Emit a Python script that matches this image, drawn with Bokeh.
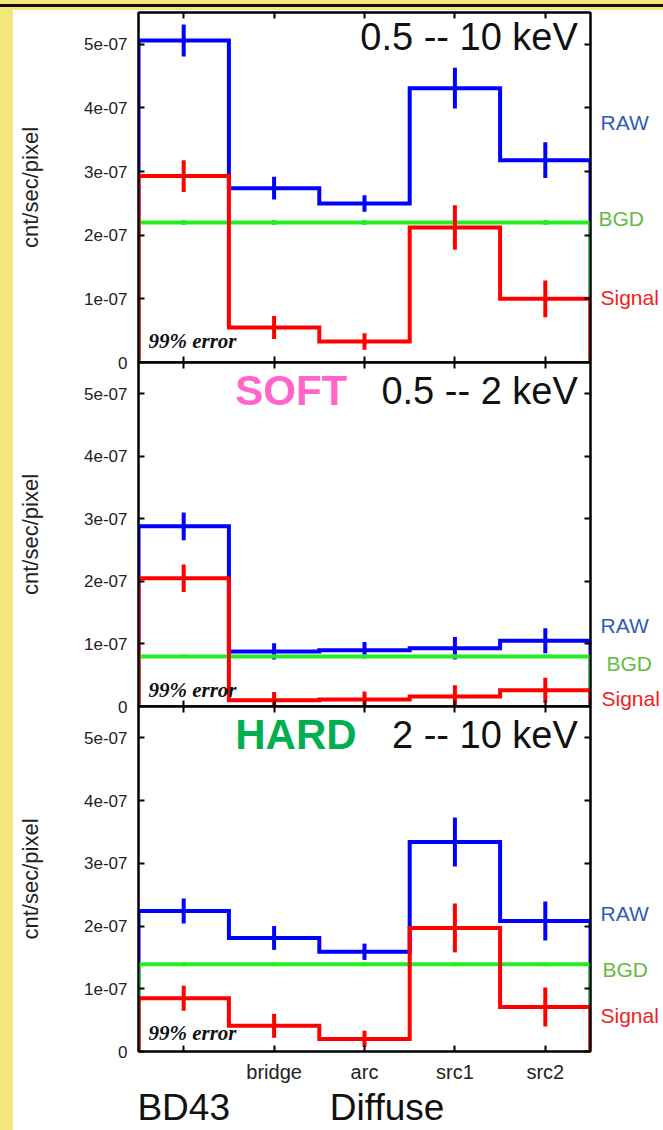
from bokeh.plotting import figure
from bokeh.models import Range1d, FixedTicker, LinearAxis, Label, Div, ColumnDataSource
from bokeh.core.properties import value
from bokeh.layouts import column, row
from bokeh.embed import file_html
from bokeh.resources import INLINE

# ---------------- data ----------------
regions = ["BD43", "bridge", "arc", "src1", "src2"]
x_tick_labels = ["", "bridge", "arc", "src1", "src2"]
group_labels = ["BD43", "Diffuse"]
y_ticks = [0.0, 1e-7, 2e-7, 3e-7, 4e-7, 5e-7]
y_tick_labels = ["0", "1e-07", "2e-07", "3e-07", "4e-07", "5e-07"]

# 0.5 -- 10 keV
full_raw = [5.06e-7, 2.74e-7, 2.50e-7, 4.31e-7, 3.18e-7]
full_raw_err = [0.25e-7, 0.18e-7, 0.13e-7, 0.32e-7, 0.28e-7]
full_bgd = [2.20e-7, 2.20e-7, 2.20e-7, 2.20e-7, 2.20e-7]
full_bgd_err = [0.04e-7, 0.04e-7, 0.04e-7, 0.04e-7, 0.04e-7]
full_sig = [2.93e-7, 0.55e-7, 0.33e-7, 2.12e-7, 1.00e-7]
full_sig_err = [0.25e-7, 0.18e-7, 0.13e-7, 0.35e-7, 0.29e-7]

# SOFT 0.5 -- 2 keV
soft_raw = [2.88e-7, 0.88e-7, 0.90e-7, 0.93e-7, 1.05e-7]
soft_raw_err = [0.22e-7, 0.13e-7, 0.13e-7, 0.18e-7, 0.20e-7]
soft_bgd = [0.80e-7, 0.80e-7, 0.80e-7, 0.80e-7, 0.80e-7]
soft_bgd_err = [0.03e-7, 0.03e-7, 0.03e-7, 0.03e-7, 0.03e-7]
soft_sig = [2.05e-7, 0.10e-7, 0.11e-7, 0.16e-7, 0.26e-7]
soft_sig_err = [0.22e-7, 0.13e-7, 0.13e-7, 0.18e-7, 0.20e-7]

# HARD 2 -- 10 keV
hard_raw = [2.24e-7, 1.81e-7, 1.59e-7, 3.34e-7, 2.08e-7]
hard_raw_err = [0.20e-7, 0.19e-7, 0.13e-7, 0.39e-7, 0.31e-7]
hard_bgd = [1.39e-7, 1.39e-7, 1.39e-7, 1.39e-7, 1.39e-7]
hard_bgd_err = [0.03e-7, 0.03e-7, 0.03e-7, 0.03e-7, 0.03e-7]
hard_sig = [0.85e-7, 0.41e-7, 0.20e-7, 1.97e-7, 0.71e-7]
hard_sig_err = [0.20e-7, 0.19e-7, 0.13e-7, 0.39e-7, 0.31e-7]

series_names = ["RAW", "BGD", "Signal"]

# ---------------- style ----------------
YELLOW = "#f3e67a"
C_RAW, C_BGD, C_SIG = "#0000ff", "#22ee22", "#ff0000"
T_RAW, T_BGD, T_SIG = "#2e5cb8", "#66bb44", "#ee2222"
FONT = "Liberation Sans"
Y_END = 5.5e-7
MAIN_W, SIDE_W = 579, 71


def steps(vals):
    xs, ys = [0], [0.0]
    for i, v in enumerate(vals):
        xs += [i, i + 1]
        ys += [v, v]
    xs.append(len(vals))
    ys.append(0.0)
    return xs, ys


def style_axis(ax):
    ax.axis_line_color = "black"
    ax.axis_line_width = 2
    ax.major_tick_line_color = "black"
    ax.major_tick_line_width = 2
    ax.major_tick_in = 6
    ax.major_tick_out = 0
    ax.minor_tick_line_color = None


def blank_axis(ticks):
    ax = LinearAxis(ticker=FixedTicker(ticks=ticks), major_label_overrides={t: "" for t in ticks},
                    major_label_text_font_size="0px", major_label_standoff=0)
    style_axis(ax)
    return ax


def make_panel(height, b_top, b_bottom, raw, raw_err, bgd, bgd_err, sig, sig_err,
               bottom_labels, title_parts, title_y, err_y):
    p = figure(width=MAIN_W, height=height, x_range=Range1d(0, 5), y_range=Range1d(0, Y_END),
               output_backend="svg", toolbar_location=None,
               min_border_left=125, min_border_right=2,
               min_border_top=b_top, min_border_bottom=b_bottom,
               x_axis_location=None, y_axis_location=None)
    p.grid.grid_line_color = None
    p.background_fill_color = "white"
    p.border_fill_color = None
    p.outline_line_color = "black"
    p.outline_line_width = 2

    centers = [i + 0.5 for i in range(len(regions))]

    left = LinearAxis(ticker=FixedTicker(ticks=y_ticks),
                      major_label_overrides={t: l for t, l in zip(y_ticks, y_tick_labels)},
                      axis_label="cnt/sec/pixel")
    style_axis(left)
    left.major_label_text_font = FONT
    left.major_label_text_font_size = "17px"
    left.major_label_text_color = "#222222"
    left.major_label_standoff = 11
    left.axis_label_text_font = FONT
    left.axis_label_text_font_size = "22px"
    left.axis_label_text_font_style = "normal"
    left.axis_label_text_color = "#222222"
    left.axis_label_standoff = 38
    p.add_layout(left, "left")

    p.add_layout(blank_axis(y_ticks), "right")
    p.add_layout(blank_axis(centers), "above")

    if bottom_labels:
        bottom = LinearAxis(ticker=FixedTicker(ticks=centers),
                            major_label_overrides={c: l for c, l in zip(centers, x_tick_labels)})
        style_axis(bottom)
        bottom.major_label_text_font = FONT
        bottom.major_label_text_font_size = "20px"
        bottom.major_label_text_color = "#222222"
        bottom.major_label_standoff = 9
        p.add_layout(bottom, "below")
        grp_ticks = [0.5, 2.75]
        grp = LinearAxis(ticker=FixedTicker(ticks=grp_ticks),
                         major_label_overrides={t: l for t, l in zip(grp_ticks, group_labels)})
        grp.axis_line_color = None
        grp.major_tick_line_color = None
        grp.minor_tick_line_color = None
        grp.major_tick_in = 0
        grp.major_tick_out = 0
        grp.major_label_standoff = 1
        grp.major_label_text_font = FONT
        grp.major_label_text_font_size = "37px"
        grp.major_label_text_color = "#111111"
        p.add_layout(grp, "below")
    else:
        p.add_layout(blank_axis(centers), "below")

    for vals, errs, col in [(raw, raw_err, C_RAW), (bgd, bgd_err, C_BGD), (sig, sig_err, C_SIG)]:
        xs, ys = steps(vals)
        p.line(xs, ys, line_color=col, line_width=4, line_join="miter")
        p.segment(x0=centers, y0=[v - e for v, e in zip(vals, errs)],
                  x1=centers, y1=[v + e for v, e in zip(vals, errs)],
                  line_color=col, line_width=4)

    for txt, x, align, color, style, size in title_parts:
        p.add_layout(Label(x=x, y=title_y, text=txt, text_align=align, text_baseline="alphabetic",
                           text_font=FONT, text_font_size=size, text_color=color,
                           text_font_style=style))

    p.add_layout(Label(x=0.11, y=err_y, text="99% error", text_align="left", text_baseline="bottom",
                       text_font="Liberation Serif", text_font_size="21px",
                       text_font_style="bold italic", text_color="#111111"))
    return p


def make_side(height, b_top, b_bottom, name_y, name_x):
    # strip right of the frame holding the series names, on the same vertical scale
    frame_h = height - b_top - b_bottom
    k = Y_END / frame_h
    s = figure(width=SIDE_W, height=height, x_range=Range1d(0, SIDE_W),
               y_range=Range1d(-b_bottom * k, Y_END + b_top * k),
               output_backend="svg", toolbar_location=None,
               min_border_left=0, min_border_right=0, min_border_top=0, min_border_bottom=0,
               x_axis_location=None, y_axis_location=None)
    s.grid.grid_line_color = None
    s.outline_line_color = None
    s.background_fill_color = None
    s.border_fill_color = None
    src = ColumnDataSource(dict(x=name_x, y=name_y, t=series_names, c=[T_RAW, T_BGD, T_SIG]))
    s.text(x="x", y="y", text="t", text_color="c", source=src, text_align="left",
           text_baseline="middle", text_font=value(FONT), text_font_size=value("21px"))
    return s


p1 = make_panel(362, 2, 10, full_raw, full_raw_err, full_bgd, full_bgd_err, full_sig, full_sig_err,
                False, [("0.5 -- 10 keV", 4.86, "right", "#111111", "normal", "38px")], 5.11e-7, 0.15e-7)
p2 = make_panel(364, 10, 10, soft_raw, soft_raw_err, soft_bgd, soft_bgd_err, soft_sig, soft_sig_err,
                False, [("SOFT", 1.07, "left", "#ff66cc", "bold", "42px"),
                        ("0.5 -- 2 keV", 4.86, "right", "#111111", "normal", "38px")], 5.05e-7, 0.07e-7)
p3 = make_panel(434, 10, 75, hard_raw, hard_raw_err, hard_bgd, hard_bgd_err, hard_sig, hard_sig_err,
                True, [("HARD", 1.07, "left", "#00b050", "bold", "42px"),
                       ("2 -- 10 keV", 4.86, "right", "#111111", "normal", "38px")], 5.05e-7, 0.11e-7)
s1 = make_side(362, 2, 10, [3.77e-7, 2.26e-7, 1.02e-7], [8, 6, 8])
s2 = make_side(364, 10, 10, [1.30e-7, 0.69e-7, 0.13e-7], [8, 14, 9])
s3 = make_side(434, 10, 75, [2.24e-7, 1.36e-7, 0.63e-7], [8, 10, 8])
for f in (p2, p3, s2, s3):
    f.margin = (-20, 0, 0, 0)

top_band = Div(text="", width=663, height=10,
               styles={"background": "linear-gradient(to bottom, %s 0px, %s 4px, #111 4px, #111 7px, %s 7px)"
                                     % (YELLOW, YELLOW, YELLOW),
                       "margin": "0", "padding": "0"})
left_band = Div(text="", width=13, height=1120,
                styles={"background-color": YELLOW, "margin": "0", "padding": "0"})

plots = column(p1, p2, p3, spacing=0, styles={"background-color": "white"})
sides = column(s1, s2, s3, spacing=0, styles={"background-color": "white"})
layout = column(top_band, row(left_band, plots, sides, spacing=0), spacing=0,
                styles={"background-color": YELLOW})

with open("out.html", "w") as f:
    f.write(file_html(layout, INLINE))
